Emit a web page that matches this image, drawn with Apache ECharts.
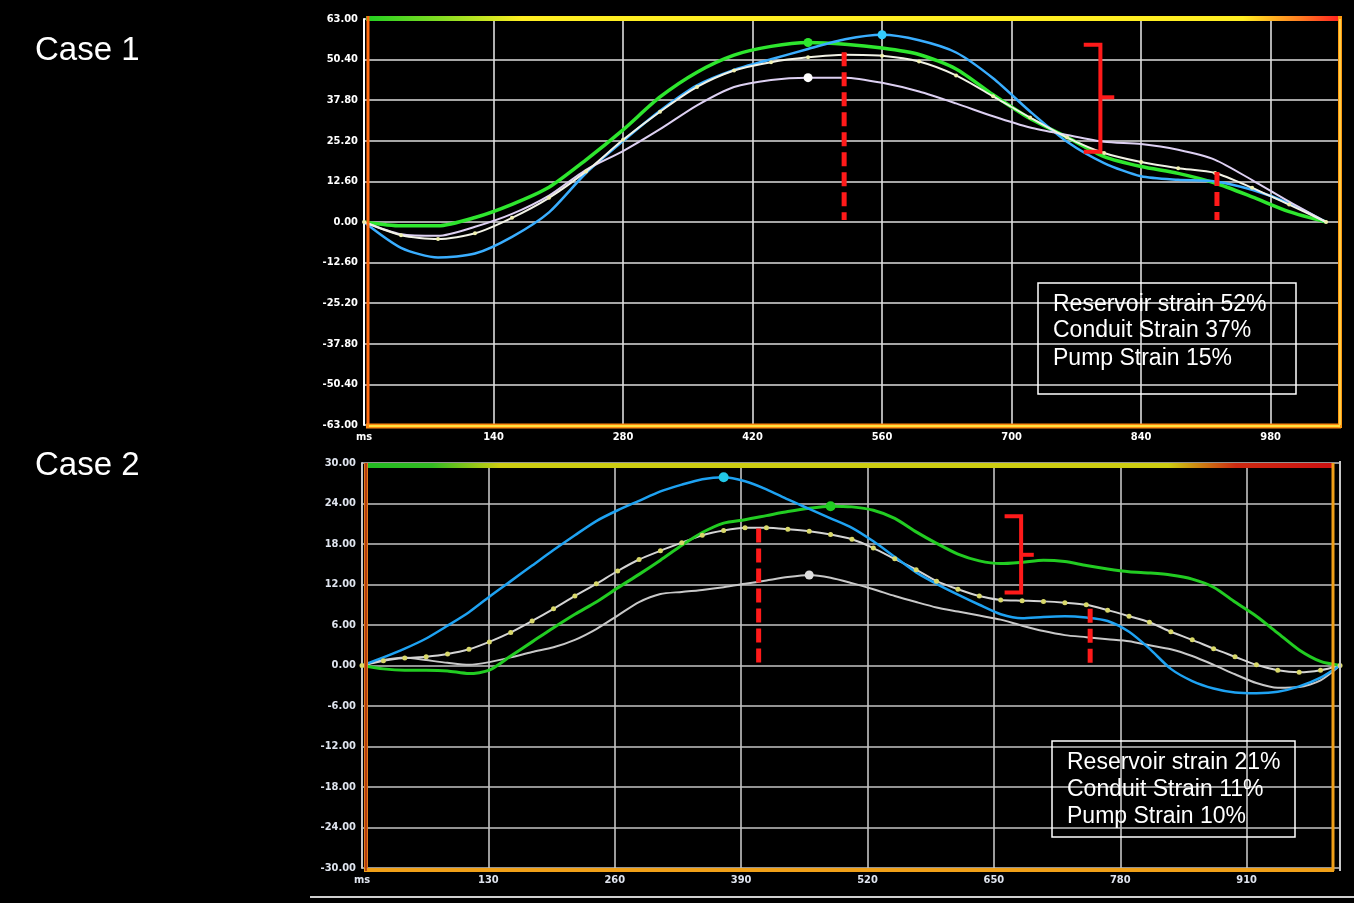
<!DOCTYPE html>
<html><head><meta charset="utf-8">
<script src="https://cdn.jsdelivr.net/npm/echarts@6/dist/echarts.min.js"></script>
<style>html,body{margin:0;padding:0;background:#000;}#c{width:1354px;height:903px;}</style>
</head><body><div id="c"></div>
<script>
// ---------- Case 1 (ms / %) ----------
const c1X     = [0,40,80,120,160,200,240,280,320,360,400,440,480,520,560,600,640,680,720,760,800,840,880,920,960,1000,1040];
const c1Green = [0,-1.2,-1.2,1.4,5.5,10.8,19.3,28.6,38.8,46.5,51.8,54.5,55.7,55.2,54.0,52.0,47.5,39.5,32.1,26.3,20.3,17.2,15.1,12.1,7.8,3.2,0];
const c1Blue  = [0,-8.0,-11.0,-9.8,-4.6,3.0,15.2,25.1,34.5,42.4,47.2,50.5,53.7,56.7,58.1,56.4,52.6,44.6,34.3,24.9,18.3,14.2,13.1,12.6,10.0,5.8,0];
const c1Avg   = [0,-4.1,-5.3,-3.5,1.3,7.5,15.7,25.5,34.2,41.9,47.0,49.6,51.1,51.9,51.6,49.8,45.5,39.0,32.4,26.2,21.4,18.6,16.7,15.2,10.6,5.4,0];
const c1Lav   = [0,-3.8,-4.3,-1.5,2.5,8.2,16.2,22.0,28.8,36.2,41.9,44.1,44.8,44.8,43.2,40.5,36.8,32.8,29.3,27.0,24.9,24.2,22.4,19.3,13.0,6.3,0];
const c1Dash1 = [[519,52.7],[519,0.6]];
const c1Dash2 = [[922,15.5],[922,0.6]];
const c1Brace = [[778,55.0],[796,55.0],[796,21.8],[778,21.8]];
const c1BraceTick = [[796,38.7],[811,38.7]];
const c1Text = ['Reservoir strain 52%','Conduit Strain 37%','Pump Strain 15%'];

// ---------- Case 2 ----------
const c2X     = [0,22,44,66,88,110,131,153,175,197,219,241,263,285,307,329,350,372,394,416,438,460,482,504,526,548,570,591,613,635,657,679,701,723,745,767,789,810,832,854,876,898,920,942,964,986,1006];
const c2Avg   = [0,0.7,1.1,1.3,1.7,2.4,3.5,4.9,6.6,8.4,10.3,12.1,14.0,15.7,17.0,18.2,19.3,20.0,20.4,20.4,20.2,19.9,19.4,18.7,17.4,15.8,14.2,12.5,11.3,10.3,9.7,9.6,9.5,9.3,9.0,8.2,7.3,6.4,5.0,3.8,2.5,1.3,0.1,-0.7,-1.0,-0.7,0];
const c2Green = [0,-0.5,-0.7,-0.7,-0.8,-1.2,-0.7,1.4,3.5,5.6,7.6,9.4,11.5,13.5,15.6,17.8,19.7,21.1,21.6,22.2,22.8,23.3,23.6,23.5,23.0,21.8,19.8,18.1,16.5,15.5,15.1,15.3,15.6,15.4,14.8,14.3,13.9,13.7,13.4,12.8,11.6,9.4,7.3,4.8,2.3,0.6,0];
const c2Blue  = [0,1.2,2.5,4.0,5.9,7.9,10.2,12.5,14.8,17.1,19.3,21.4,23.0,24.4,25.8,26.8,27.6,27.9,27.3,26.1,24.6,23.2,21.8,20.4,18.4,16.1,13.8,12.1,10.5,9.0,7.6,7.0,7.2,7.3,7.1,6.6,5.0,2.5,-0.5,-2.3,-3.4,-4.0,-4.1,-3.9,-3.1,-1.8,0];
const c2Grey  = [0,0.8,1.2,0.8,0.4,0.1,0.5,1.2,2.0,2.7,3.8,5.4,7.4,9.4,10.6,10.9,11.2,11.6,12.1,12.6,13.1,13.4,13.0,12.2,11.3,10.3,9.4,8.6,8.0,7.4,6.8,5.9,5.1,4.5,4.2,3.9,3.6,3.0,2.4,1.4,0.1,-1.3,-2.6,-3.3,-3.2,-2.2,0];
const c2Dash1 = [[408,20.3],[408,-0.2]];
const c2Dash2 = [[749,8.4],[749,-0.2]];
const c2Brace = [[661,22.1],[678,22.1],[678,10.8],[661,10.8]];
const c2BraceTick = [[678,16.4],[691,16.4]];
const c2Text = ['Reservoir strain 21%','Conduit Strain 11%','Pump Strain 10%'];

// ---------- axis settings ----------
const c1XMax = 1055, c1XInt = 140, c1YMin = -63, c1YMax = 63, c1YInt = 12.6;
const c2XMax = 1006, c2XInt = 130, c2YMin = -30, c2YMax = 30, c2YInt = 6;

const G1 = {left:364, top:19, width:976, height:406};
const G2 = {left:362, top:463, width:978, height:405};

function pairs(xs, ys){ return xs.map((x,i)=>[x, ys[i]]); }
function peak(xs, ys){ let m=0; ys.forEach((v,i)=>{ if(v>ys[m]) m=i; }); return [xs[m], ys[m]]; }

const chart = echarts.init(document.getElementById('c'), null, {renderer:'canvas'});
const lblFont = {fontFamily:'DejaVu Sans Condensed', fontWeight:'bold', fontSize:11};

function xAxisCfg(gi, max, interval, color, gridColor){
  return {type:'value', gridIndex:gi, min:0, max:max, interval:interval,
    axisLine:{show:false}, axisTick:{show:false},
    axisLabel:Object.assign({color:color, margin:7, showMaxLabel:false,
      formatter:v => v===0 ? 'ms' : String(v)}, lblFont),
    splitLine:{show:true, lineStyle:{color:gridColor, width:1.6}}};
}
function yAxisCfg(gi, min, max, interval, color, gridColor, axisColor){
  return {type:'value', gridIndex:gi, min:min, max:max, interval:interval,
    axisLine:{show:true, onZero:false, lineStyle:{color:axisColor, width:2}}, axisTick:{show:false},
    axisLabel:Object.assign({color:color, margin:6, formatter:v => v.toFixed(2)}, lblFont),
    splitLine:{show:true, lineStyle:{color:gridColor, width:1.6}}};
}
function lineS(gi, data, color, width, extra){
  return Object.assign({type:'line', xAxisIndex:gi, yAxisIndex:gi, data:data, symbol:'none',
    smooth:0.25, lineStyle:{color:color, width:width}, itemStyle:{color:color}, animation:false, silent:true}, extra||{});
}
function mp(coord, color, size){
  return {symbol:'circle', symbolSize:size, silent:true, label:{show:false},
    itemStyle:{color:color}, data:[{coord:coord}]};
}
function redDash(gi, data){
  return {type:'line', xAxisIndex:gi, yAxisIndex:gi, data:data, symbol:'none', animation:false, silent:true, z:5,
    lineStyle:{color:'#ff1a1a', width:5, type:[14,6]}};
}
function redLine(gi, data){
  return {type:'line', xAxisIndex:gi, yAxisIndex:gi, data:data, symbol:'none', animation:false, silent:true, z:5,
    lineStyle:{color:'#ff1a1a', width:4, join:'miter'}};
}

const grad1 = new echarts.graphic.LinearGradient(0,0,1,0,[
  {offset:0,color:'#22d022'},{offset:0.08,color:'#88dd22'},{offset:0.16,color:'#ffee22'},
  {offset:0.9,color:'#ffee22'},{offset:0.96,color:'#ff7a22'},{offset:1,color:'#ff2020'}]);
const grad2 = new echarts.graphic.LinearGradient(0,0,1,0,[
  {offset:0,color:'#22bb22'},{offset:0.07,color:'#33bb22'},{offset:0.14,color:'#cccc11'},
  {offset:0.83,color:'#cccc11'},{offset:0.9,color:'#cc2a11'},{offset:1,color:'#cc1111'}]);

function textBox(x, y, w, h, lines, tx, ys){
  const els = [{type:'rect', shape:{x:x, y:y, width:w, height:h}, style:{fill:'none', stroke:'#ffffff', lineWidth:1.5}, z:20}];
  lines.forEach((t,i)=>els.push({type:'text', x:tx, y:ys[i], z:21,
    style:{text:t, fill:'#ffffff', font:'23px "Liberation Sans", Arial, sans-serif', textVerticalAlign:'middle'}}));
  return els;
}

const G1b = G1.top + G1.height, G1r = G1.left + G1.width;
const G2b = G2.top + G2.height, G2r = G2.left + G2.width;

const graphics = [
  {type:'text', x:35, y:51, z:20, style:{text:'Case 1', fill:'#fff', font:'33px "Liberation Sans", Arial, sans-serif', textVerticalAlign:'middle'}},
  {type:'text', x:35, y:466, z:20, style:{text:'Case 2', fill:'#fff', font:'33px "Liberation Sans", Arial, sans-serif', textVerticalAlign:'middle'}},
  // case 1 frame
  {type:'rect', z:15, shape:{x:G1.left+2, y:G1.top-3, width:G1.width-2, height:5}, style:{fill:grad1}},
  {type:'line', z:15, shape:{x1:G1.left+4, y1:G1.top-3, x2:G1.left+4, y2:G1b+3}, style:{stroke:'#ff6a10', lineWidth:3}},
  {type:'line', z:15, shape:{x1:G1.left+2, y1:G1b+1, x2:G1r+1, y2:G1b+1}, style:{stroke:'#ff8a10', lineWidth:5}},
  {type:'line', z:16, shape:{x1:G1.left+5, y1:G1b+1, x2:G1r, y2:G1b+1}, style:{stroke:'#ffe040', lineWidth:2}},
  {type:'line', z:15, shape:{x1:G1r, y1:G1.top-3, x2:G1r, y2:G1b+3}, style:{stroke:'#ff9a10', lineWidth:4}},
  {type:'line', z:16, shape:{x1:G1r, y1:G1.top, x2:G1r, y2:G1b}, style:{stroke:'#ffe060', lineWidth:1.5}},
  // case 2 frame
  {type:'rect', z:15, shape:{x:G2.left+2, y:G2.top, width:G2.width-9, height:5}, style:{fill:grad2}},
  {type:'line', z:15, shape:{x1:G2.left+4, y1:G2.top, x2:G2.left+4, y2:G2b+3}, style:{stroke:'#e07a18', lineWidth:4}},
  {type:'line', z:16, shape:{x1:G2.left+4, y1:G2.top, x2:G2.left+4, y2:G2b+3}, style:{stroke:'#a02810', lineWidth:1.5}},
  {type:'line', z:15, shape:{x1:G2.left+2, y1:G2b+2, x2:G2r-6, y2:G2b+2}, style:{stroke:'#f0a018', lineWidth:4}},
  {type:'line', z:15, shape:{x1:G2r-7, y1:G2.top, x2:G2r-7, y2:G2b+3}, style:{stroke:'#f0a018', lineWidth:3}},
  {type:'line', z:14, shape:{x1:G2r, y1:G2.top-2, x2:G2r, y2:G2b+3}, style:{stroke:'#c8c8c8', lineWidth:2}},
  // bottom rule
  {type:'line', z:10, shape:{x1:310, y1:897, x2:1354, y2:897}, style:{stroke:'#cfcfcf', lineWidth:2}}
].concat(
  textBox(1038, 283, 258, 111, c1Text, 1053, [305, 331, 359]),
  textBox(1052, 741, 243, 96, c2Text, 1067, [763, 790, 817])
);

const option = {
  backgroundColor:'#000000',
  animation:false,
  grid:[
    Object.assign({containLabel:false}, G1),
    Object.assign({containLabel:false}, G2)
  ],
  xAxis:[
    xAxisCfg(0, c1XMax, c1XInt, '#ffffff', '#dedede'),
    xAxisCfg(1, c2XMax, c2XInt, '#dfe4ee', '#c4c4c4')
  ],
  yAxis:[
    yAxisCfg(0, c1YMin, c1YMax, c1YInt, '#ffffff', '#dedede', '#ffffff'),
    yAxisCfg(1, c2YMin, c2YMax, c2YInt, '#dfe4ee', '#c4c4c4', '#c8c8c8')
  ],
  series:[
    lineS(0, pairs(c1X, c1Green), '#2ee62e', 3.5, {markPoint:mp(peak(c1X,c1Green), '#2ee62e', 9)}),
    lineS(0, pairs(c1X, c1Blue), '#3aaeff', 2.5, {markPoint:mp(peak(c1X,c1Blue), '#33ccff', 9)}),
    lineS(0, pairs(c1X, c1Lav), '#ddd0f2', 2, {markPoint:mp(peak(c1X,c1Lav), '#ffffff', 9)}),
    lineS(0, pairs(c1X, c1Avg), '#f2f2e6', 2, {symbol:'circle', symbolSize:4, showSymbol:true,
      itemStyle:{color:'#f0f0b0'}}),
    redDash(0, c1Dash1), redDash(0, c1Dash2), redLine(0, c1Brace), redLine(0, c1BraceTick),

    lineS(1, pairs(c2X, c2Grey), '#c8c8c8', 2, {markPoint:mp(peak(c2X,c2Grey), '#dddddd', 9)}),
    lineS(1, pairs(c2X, c2Avg), '#d4d4d4', 2, {symbol:'circle', symbolSize:5, showSymbol:true,
      itemStyle:{color:'#d8d86a'}}),
    lineS(1, pairs(c2X, c2Green), '#22cc22', 3, {markPoint:mp(peak(c2X,c2Green), '#22cc22', 10)}),
    lineS(1, pairs(c2X, c2Blue), '#1ea2f2', 2.5, {markPoint:mp(peak(c2X,c2Blue), '#22c8e8', 10)}),
    redDash(1, c2Dash1), redDash(1, c2Dash2), redLine(1, c2Brace), redLine(1, c2BraceTick)
  ],
  graphic:graphics
};
chart.setOption(option);
</script></body></html>
